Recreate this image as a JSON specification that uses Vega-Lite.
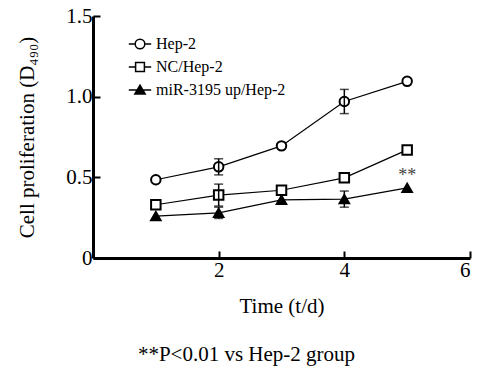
{
  "$schema": "https://vega.github.io/schema/vega-lite/v6.json",
  "autosize": {"type": "none"},
  "width": 377,
  "height": 242,
  "padding": {"left": 93, "top": 16, "right": 8, "bottom": 117},
  "background": "white",
  "config": {
    "view": {"stroke": null},
    "font": "Liberation Serif",
    "axis": {"grid": false, "domainColor": "black", "domainWidth": 3, "tickColor": "black", "tickWidth": 2, "tickSize": -7, "labelFont": "Liberation Serif", "labelFontSize": 21, "labelColor": "black", "titleFont": "Liberation Serif", "titleFontSize": 21, "titleFontWeight": 400, "titleColor": "black"}
  },
  "title": {"text": "**P<0.01 vs Hep-2 group", "orient": "bottom", "font": "Liberation Serif", "fontSize": 21, "fontWeight": "normal", "color": "black", "offset": 28, "dx": -35},
  "data": {"values": [
    {"series": "Hep-2", "t": 1, "v": 0.485, "lo": null, "hi": null},
    {"series": "Hep-2", "t": 2, "v": 0.565, "lo": 0.515, "hi": 0.615},
    {"series": "Hep-2", "t": 3, "v": 0.695, "lo": null, "hi": null},
    {"series": "Hep-2", "t": 4, "v": 0.97, "lo": 0.895, "hi": 1.045},
    {"series": "Hep-2", "t": 5, "v": 1.095, "lo": null, "hi": null},
    {"series": "NC/Hep-2", "t": 1, "v": 0.33, "lo": null, "hi": null},
    {"series": "NC/Hep-2", "t": 2, "v": 0.39, "lo": 0.322, "hi": 0.458},
    {"series": "NC/Hep-2", "t": 3, "v": 0.42, "lo": null, "hi": null},
    {"series": "NC/Hep-2", "t": 4, "v": 0.497, "lo": null, "hi": null},
    {"series": "NC/Hep-2", "t": 5, "v": 0.67, "lo": null, "hi": null},
    {"series": "miR-3195 up/Hep-2", "t": 1, "v": 0.26, "lo": null, "hi": null},
    {"series": "miR-3195 up/Hep-2", "t": 2, "v": 0.28, "lo": 0.245, "hi": 0.315},
    {"series": "miR-3195 up/Hep-2", "t": 3, "v": 0.36, "lo": null, "hi": null},
    {"series": "miR-3195 up/Hep-2", "t": 4, "v": 0.365, "lo": 0.315, "hi": 0.415},
    {"series": "miR-3195 up/Hep-2", "t": 5, "v": 0.435, "lo": null, "hi": null}
  ]},
  "resolve": {"scale": {"shape": "independent", "fill": "independent", "stroke": "independent"}, "legend": {"shape": "independent", "fill": "independent", "stroke": "independent"}},
  "layer": [
    {
      "mark": {"type": "line", "color": "black", "strokeWidth": 1.2},
      "encoding": {
        "x": {"field": "t", "type": "quantitative", "scale": {"domain": [0, 6], "nice": false},
          "axis": {"values": [2, 4, 6], "format": "d", "title": "Time (t/d)", "labelPadding": 8, "titlePadding": 15, "domainColor": "black", "domainWidth": 3, "tickColor": "black", "tickWidth": 2, "tickSize": -7, "labelFont": "Liberation Serif", "labelFontSize": 21, "labelColor": "black", "titleFont": "Liberation Serif", "titleFontSize": 21, "titleFontWeight": 400, "titleColor": "black", "grid": false}},
        "y": {"field": "v", "type": "quantitative", "scale": {"domain": [0, 1.5], "nice": false},
          "axis": {"values": [0, 0.5, 1, 1.5], "labelExpr": "datum.value == 0 ? '0' : format(datum.value, '.1f')", "title": "Cell proliferation (D₄₉₀)", "labelPadding": 8, "titlePadding": 28, "domainColor": "black", "domainWidth": 3, "tickColor": "black", "tickWidth": 2, "tickSize": -7, "labelFont": "Liberation Serif", "labelFontSize": 21, "labelColor": "black", "titleFont": "Liberation Serif", "titleFontSize": 21, "titleFontWeight": 400, "titleColor": "black", "grid": false}},
        "detail": {"field": "series"}
      }
    },
    {
      "mark": {"type": "point", "filled": true, "strokeWidth": 2, "opacity": 1},
      "encoding": {
        "x": {"field": "t", "type": "quantitative"},
        "y": {"field": "v", "type": "quantitative"},
        "shape": {"field": "series", "type": "nominal", "scale": {"domain": ["Hep-2", "NC/Hep-2", "miR-3195 up/Hep-2"], "range": ["circle", "square", "triangle-up"]}, "legend": null},
        "fill": {"field": "series", "type": "nominal", "scale": {"domain": ["Hep-2", "NC/Hep-2", "miR-3195 up/Hep-2"], "range": ["white", "white", "black"]}, "legend": null},
        "stroke": {"field": "series", "type": "nominal", "scale": {"domain": ["Hep-2", "NC/Hep-2", "miR-3195 up/Hep-2"], "range": ["black", "black", "black"]}, "legend": null},
        "size": {"value": 90}
      }
    },
    {
      "transform": [{"filter": "false"}],
      "mark": {"type": "point", "filled": true, "strokeWidth": 1.5, "opacity": 1},
      "encoding": {
        "x": {"field": "t", "type": "quantitative"},
        "y": {"field": "v", "type": "quantitative"},
        "shape": {"field": "series", "type": "nominal", "scale": {"domain": ["Hep-2", "NC/Hep-2", "miR-3195 up/Hep-2"], "range": ["M-1.4,0L-0.6,0M0.6,0L1.4,0M-0.6,0A0.6,0.6 0 1,1 0.6,0A0.6,0.6 0 1,1 -0.6,0Z", "M-1.4,0L-0.55,0M0.55,0L1.4,0M-0.55,-0.55L0.55,-0.55L0.55,0.55L-0.55,0.55Z", "M-1.4,0L1.4,0M0,-0.6L0.65,0.5L-0.65,0.5Z"]},
          "legend": {"title": null, "orient": "none", "legendX": 38, "legendY": 19, "labelFont": "Liberation Serif", "labelFontSize": 16, "labelColor": "black", "symbolSize": 256, "rowPadding": 6, "labelOffset": 7, "symbolStrokeWidth": 1.5, "symbolOpacity": 1}},
        "fill": {"field": "series", "type": "nominal", "scale": {"domain": ["Hep-2", "NC/Hep-2", "miR-3195 up/Hep-2"], "range": ["white", "white", "black"]}, "legend": {"title": null, "orient": "none", "legendX": 38, "legendY": 19, "labelFontSize": 16, "symbolSize": 256, "rowPadding": 6, "labelOffset": 7}},
        "stroke": {"field": "series", "type": "nominal", "scale": {"domain": ["Hep-2", "NC/Hep-2", "miR-3195 up/Hep-2"], "range": ["black", "black", "black"]}, "legend": {"title": null, "orient": "none", "legendX": 38, "legendY": 19, "labelFontSize": 16, "symbolSize": 256, "rowPadding": 6, "labelOffset": 7}}
      }
    },
    {
      "transform": [{"filter": "datum.lo != null"}],
      "mark": {"type": "rule", "color": "black", "strokeWidth": 1.5},
      "encoding": {
        "x": {"field": "t", "type": "quantitative"},
        "y": {"field": "lo", "type": "quantitative"},
        "y2": {"field": "hi"}
      }
    },
    {
      "transform": [{"filter": "datum.lo != null"}],
      "mark": {"type": "tick", "color": "black", "orient": "horizontal", "size": 9, "thickness": 1.5},
      "encoding": {
        "x": {"field": "t", "type": "quantitative"},
        "y": {"field": "lo", "type": "quantitative"}
      }
    },
    {
      "transform": [{"filter": "datum.lo != null"}],
      "mark": {"type": "tick", "color": "black", "orient": "horizontal", "size": 9, "thickness": 1.5},
      "encoding": {
        "x": {"field": "t", "type": "quantitative"},
        "y": {"field": "hi", "type": "quantitative"}
      }
    },
    {
      "transform": [{"filter": "datum.series === 'miR-3195 up/Hep-2' && datum.t === 5"}],
      "mark": {"type": "text", "text": "**", "fontSize": 18, "font": "Liberation Serif", "color": "#444", "dy": -12},
      "encoding": {
        "x": {"field": "t", "type": "quantitative"},
        "y": {"field": "v", "type": "quantitative"}
      }
    }
  ]
}
